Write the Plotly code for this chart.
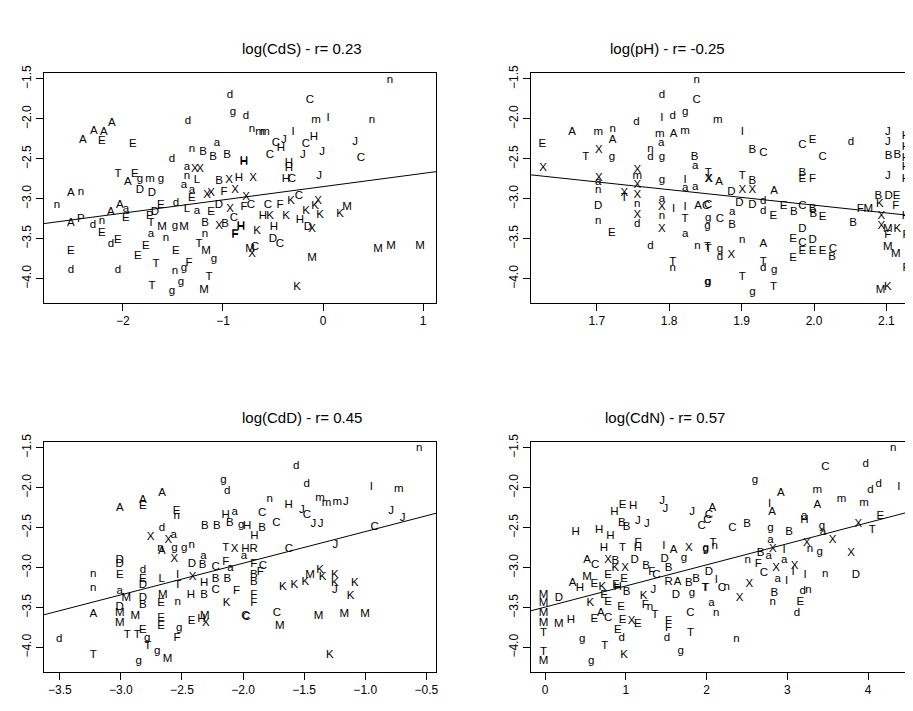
import plotly.graph_objects as go

# ---- panel 1: log(CdS) ----
cds_lab = ("A A A E A E d d g d n B a B B d "
           "H T A E g m g D D a X X n L B X "
           "H a a X X F X A n n A a A E A "
           "P d n E d E D P T L a E D X F "
           "C B X B H E M g M a n n F d E "
           "E E E E T M g F d d T n g T T "
           "g g M "
           "n C m I n n m m I H J C H C C J "
           "J J C H H H X H C J X C C K F C "
           "H K K X K K H K X D K M H F K H "
           "D C M X C M M M M K").split()
cds_x = [-2.40, -2.29, -2.19, -2.21, -2.11, -1.90, -1.35, -0.93, -0.90, -0.77, -1.31, -1.20, -1.06, -1.10, -0.96, -1.51,
         -0.79, -2.05, -1.95, -1.88, -1.83, -1.73, -1.62, -1.83, -1.71, -1.36, -1.28, -1.23, -1.36, -1.26, -1.04, -0.94,
         -0.84, -1.39, -1.31, -1.16, -1.12, -0.99, -0.88, -2.52, -2.42, -2.66, -2.03, -1.97, -2.12, -1.97, -2.52,
         -2.42, -2.30, -2.21, -1.62, -1.47, -1.31, -1.68, -1.73, -1.72, -1.36, -1.26, -1.12, -1.04, -0.93, -0.79,
         -0.89, -1.18, -1.04, -0.98, -0.82, -2.21, -1.61, -1.48, -1.39, -1.72, -1.57, -1.18, -0.88, -2.12, -2.05,
         -1.77, -1.85, -2.52, -1.47, -1.24, -1.17, -1.09, -1.34, -2.52, -2.05, -1.67, -1.48, -1.39, -1.14, -1.71,
         -1.51, -1.42, -1.19,
         0.67, -0.13, -0.07, 0.05, 0.49, -0.71, -0.58, -0.63, -0.30, -0.09, -0.39, -0.47, -0.42, -0.53, -0.17, -0.20,
         -0.01, 0.32, 0.38, -0.34, -0.34, -0.79, -0.70, -0.37, -0.31, -0.04, -0.77, -0.72, -0.24, -0.32, -0.43, -0.55,
         -0.60, -0.53, -0.37, -0.05, -0.08, -0.03, -0.23, -0.17, -0.11, -0.15, 0.17, 0.24, -0.82, -0.88, -0.66, -0.49,
         -0.50, -0.43, -0.73, -0.71, -0.68, 0.55, 0.68, 0.97, -0.11, -0.26]
cds_y = [-2.27, -2.15, -2.17, -2.28, -2.05, -2.31, -2.03, -1.70, -1.91, -1.97, -2.38, -2.41, -2.30, -2.48, -2.45, -2.50,
         -2.53, -2.69, -2.79, -2.69, -2.75, -2.75, -2.75, -2.89, -2.93, -2.60, -2.63, -2.63, -2.72, -2.76, -2.78, -2.76,
         -2.74, -2.83, -2.89, -2.95, -2.93, -2.91, -2.89, -2.93, -2.92, -3.08, -3.08, -3.13, -3.17, -3.24, -3.31,
         -3.26, -3.33, -3.28, -3.08, -3.06, -2.99, -3.17, -3.22, -3.31, -3.13, -3.15, -3.17, -3.08, -3.13, -3.11,
         -3.24, -3.30, -3.34, -3.32, -3.34, -3.43, -3.36, -3.34, -3.36, -3.44, -3.49, -3.44, -3.44, -3.57, -3.52,
         -3.59, -3.72, -3.65, -3.65, -3.57, -3.65, -3.75, -3.80, -3.89, -3.89, -3.82, -3.90, -3.87, -3.98, -4.09,
         -4.16, -4.04, -4.14,
         -1.51, -1.76, -2.02, -1.99, -2.02, -2.13, -2.17, -2.17, -2.17, -2.23, -2.27, -2.30, -2.37, -2.45, -2.32, -2.45,
         -2.41, -2.29, -2.49, -2.55, -2.62, -2.54, -2.74, -2.75, -2.75, -2.72, -2.98, -3.08, -2.97, -3.03, -3.08, -3.08,
         -3.22, -3.22, -3.22, -3.03, -3.09, -3.20, -3.27, -3.15, -3.38, -3.36, -3.19, -3.11, -3.36, -3.45, -3.40, -3.36,
         -3.50, -3.57, -3.63, -3.69, -3.61, -3.63, -3.59, -3.59, -3.74, -4.10]

# ---- panel 2: log(pH) ----
ph_lab = ("n d C I d g d A m n A m a A m E "
          "X T g n d g B a X X a n D n E X "
          "m X X n X d X T g a X n X I I a "
          "a X I T A C a g d n T T n g "
          "m I B C C E C d J J H H B B H H "
          "J H T X A T B D X X A B E F C D "
          "D d d E E B C B E B B F M B D E "
          "K F H X X M K F F M M F M K g C "
          "a B T n g d X A T d g T T g g E "
          "D C D E E E C B E").split()
ph_x = [1.838, 1.790, 1.838, 1.790, 1.805, 1.822, 1.755, 1.666, 1.702, 1.722, 1.722, 1.787, 1.789, 1.806, 1.822, 1.625,
        1.703, 1.685, 1.721, 1.774, 1.774, 1.790, 1.835, 1.836, 1.626, 1.703, 1.702, 1.702, 1.702, 1.702, 1.721, 1.756,
        1.756, 1.756, 1.756, 1.756, 1.756, 1.756, 1.738, 1.738, 1.790, 1.790, 1.790, 1.790, 1.790, 1.806, 1.822, 1.822,
        1.836, 1.855, 1.822, 1.822, 1.840, 1.851, 1.822, 1.853, 1.774, 1.839, 1.853, 1.805, 1.805, 1.853,
        1.867, 1.901, 1.915, 1.930, 1.984, 1.998, 2.012, 2.051, 2.102, 2.102, 2.127, 2.127, 2.103, 2.115, 2.127, 2.127,
        2.102, 2.127, 1.854, 1.854, 1.869, 1.901, 1.915, 1.886, 1.901, 1.915, 1.945, 1.984, 1.984, 1.998, 1.854, 1.897,
        1.915, 1.930, 1.930, 1.944, 1.958, 1.972, 1.984, 1.998, 2.012, 1.999, 2.054, 2.064, 2.075, 2.089, 2.103, 2.114,
        2.091, 2.113, 2.127, 2.093, 2.093, 2.102, 2.115, 2.127, 2.102, 2.102, 2.113, 2.127, 2.092, 2.102, 1.854, 1.870,
        1.887, 1.887, 1.854, 1.901, 1.870, 1.870, 1.886, 1.930, 1.930, 1.930, 1.945, 1.901, 1.944, 1.915, 1.854, 1.971,
        1.984, 1.984, 1.998, 1.984, 1.998, 2.012, 2.026, 2.025, 1.971]
ph_y = [-1.52, -1.70, -1.76, -1.99, -1.96, -1.91, -2.04, -2.17, -2.17, -2.13, -2.27, -2.19, -2.30, -2.19, -2.15, -2.31,
        -2.39, -2.48, -2.48, -2.38, -2.48, -2.48, -2.48, -2.59, -2.62, -2.74, -2.79, -2.89, -3.09, -3.28, -3.43, -2.64,
        -2.72, -2.83, -2.95, -3.07, -3.20, -3.32, -2.93, -2.99, -2.76, -3.01, -3.11, -3.22, -3.38, -3.13, -2.76, -2.86,
        -2.85, -2.75, -3.11, -3.26, -3.09, -3.09, -3.44, -3.34, -3.59, -3.59, -3.61, -3.79, -3.87, -4.04,
        -2.02, -2.17, -2.39, -2.43, -2.33, -2.26, -2.48, -2.29, -2.17, -2.29, -2.21, -2.35, -2.47, -2.45, -2.49, -2.60,
        -2.72, -2.75, -2.68, -2.75, -2.79, -2.72, -2.78, -2.92, -2.89, -2.89, -2.90, -2.68, -2.75, -2.75, -3.08, -3.05,
        -3.08, -3.03, -3.15, -3.22, -3.09, -3.17, -3.09, -3.13, -3.23, -3.19, -3.30, -3.13, -3.13, -2.97, -2.97, -2.97,
        -3.07, -3.09, -3.22, -3.22, -3.34, -3.38, -3.38, -3.45, -3.46, -3.61, -3.69, -3.87, -4.14, -4.10, -3.24, -3.26,
        -3.17, -3.33, -3.63, -3.52, -3.63, -3.73, -3.70, -3.57, -3.79, -3.87, -3.89, -3.98, -4.10, -4.17, -4.04, -3.51,
        -3.38, -3.56, -3.52, -3.65, -3.65, -3.66, -3.63, -3.73, -3.74]

# ---- panel 3: log(CdD) ----
cdd_lab = ("g d A A E A E n d X X a n A "
           "g g n X B B H a B g H T X H "
           "a D D E n n a M d E D D B L "
           "I T M E n D a B C F a X B H "
           "B C H B K F A D M M M E E T "
           "T E g T g g M d T g F E H M "
           "X C "
           "d d n H J C m m m J I m n C "
           "C J J B H J J C J C R F C F "
           "K K K M K K K K J K K C C M "
           "M M M K B B F F").split()
cdd_x = [-2.161, -2.129, -3.009, -2.820, -2.820, -2.663, -2.543, -2.543, -2.663, -2.757, -2.611, -2.568, -2.676, -2.665,
         -2.562, -2.481, -2.421, -2.562, -2.313, -2.215, -2.142, -2.069, -2.107, -2.015, -1.966, -2.142, -2.069, -1.980,
         -1.993, -3.009, -3.009, -3.009, -3.226, -3.226, -3.009, -2.955, -2.820, -2.820, -2.820, -2.820, -2.820, -2.665,
         -2.535, -2.535, -2.657, -2.671, -2.535, -2.419, -2.324, -2.332, -2.224, -2.142, -2.102, -2.413, -2.224, -2.319,
         -2.129, -2.224, -2.427, -2.319, -2.134, -2.053, -3.226, -3.009, -3.009, -3.009, -2.882, -2.671, -2.671, -2.947,
         -2.866, -2.820, -2.785, -2.779, -2.703, -2.855, -2.617, -3.505, -3.226, -2.522, -2.541, -2.421, -2.340, -2.313,
         -2.305, -1.972,
         -1.565, -1.478, -1.782, -1.627, -1.518, -1.478, -1.370, -1.316, -1.229, -1.159, -0.950, -0.725, -0.557, -1.844,
         -1.727, -1.424, -1.364, -1.844, -1.907, -0.787, -0.693, -0.923, -1.245, -1.625, -1.912, -1.912, -1.837, -1.858,
         -1.674, -1.579, -1.490, -1.452, -1.370, -1.348, -1.248, -1.248, -1.248, -1.085, -1.120, -1.980, -1.722, -1.700,
         -1.382, -1.172, -1.001, -1.289, -1.912, -1.912, -1.912, -1.912]
cdd_y = [-1.90, -2.04, -2.25, -2.16, -2.23, -2.07, -2.29, -2.36, -2.50, -2.62, -2.65, -2.59, -2.75, -2.79, -2.75, -2.76,
         -2.72, -2.89, -2.48, -2.48, -2.34, -2.31, -2.44, -2.47, -2.48, -2.76, -2.77, -2.77, -2.85, -2.90, -2.95, -3.10,
         -3.08, -3.26, -3.30, -3.38, -3.03, -3.14, -3.22, -3.38, -3.47, -3.14, -3.10, -3.22, -3.34, -3.45, -3.43, -2.95,
         -2.85, -2.97, -2.99, -2.93, -3.01, -3.12, -3.14, -3.20, -3.14, -3.28, -3.34, -3.34, -3.45, -3.30, -3.58, -3.49,
         -3.57, -3.69, -3.61, -3.63, -3.73, -3.84, -3.84, -3.78, -3.88, -3.98, -4.04, -4.17, -4.15, -3.89, -4.10, -3.76,
         -3.88, -3.67, -3.64, -3.61, -3.69, -3.62,
         -1.73, -1.96, -2.14, -2.22, -2.28, -2.34, -2.13, -2.19, -2.18, -2.18, -1.99, -2.02, -1.50, -2.32, -2.44, -2.46,
         -2.46, -2.51, -2.60, -2.29, -2.38, -2.49, -2.72, -2.77, -2.77, -2.95, -2.98, -3.06, -3.24, -3.22, -3.18, -3.10,
         -3.03, -3.12, -3.10, -3.20, -3.28, -3.19, -3.36, -3.61, -3.57, -3.73, -3.61, -3.58, -3.58, -4.10, -3.10, -3.18,
         -3.34, -3.45]

# ---- panel 4: log(CdN) ----
cdn_lab = ("M M M M T T M D M H g T g K H H H "
           "H E H B B J J J J J C C H T H F I A "
           "g X g A C X B D B F C D B M E K X "
           "E A H E K E H B J K F n T R A B B "
           "D g T K E E E C A E E X E E d F F "
           "d C T g "
           "n C d g d d I A m m m m I A A A C C B "
           "a H g a B g a X X E T X n g X T g n B "
           "X I a n F a C X a I I X I n D D I T C "
           "n X X B n d n E d a n n").split()
cdn_x = [-0.02, -0.02, -0.02, -0.02, -0.02, -0.02, -0.02, 0.17, 0.17, 0.32, 0.46, 0.74, 0.57, 0.98, 0.38, 0.67, 0.81,
         0.86, 0.96, 1.09, 0.95, 1.01, 1.15, 1.26, 1.45, 1.49, 1.82, 1.94, 2.03, 0.73, 0.96, 1.15, 1.15, 1.47, 1.59,
         1.72, 1.78, 1.99, 0.52, 0.62, 0.78, 0.87, 1.11, 1.25, 1.32, 1.38, 1.48, 1.53, 0.52, 0.78, 0.87, 0.99, 0.98,
         0.34, 0.43, 0.61, 0.71, 0.88, 0.90, 1.01, 1.34, 1.22, 1.24, 1.30, 1.36, 1.53, 1.64, 1.78, 1.87, 1.62, 1.82,
         1.98, 0.56, 0.73, 0.78, 0.94, 0.78, 0.69, 0.61, 0.96, 1.07, 1.15, 0.90, 0.95, 1.53, 1.53, 1.51, 1.80, 1.80,
         1.68,
         4.31, 3.47, 3.97, 2.60, 4.13, 4.03, 4.38, 2.92, 3.37, 3.67, 3.95, 4.55, 2.78, 2.81, 3.37, 2.07, 2.01, 2.32, 2.50,
         3.21, 3.21, 2.79, 2.79, 3.02, 3.43, 3.44, 3.56, 3.88, 4.15, 4.05, 3.24, 3.28, 3.40, 3.79, 2.08, 1.99, 2.10, 2.67,
         2.82, 2.96, 2.77, 2.51, 2.64, 2.96, 2.71, 2.86, 2.88, 2.99, 3.07, 3.09, 3.22, 3.47, 3.85, 2.03, 2.12, 1.99, 2.19,
         2.25, 2.53, 2.41, 2.84, 2.82, 3.19, 3.26, 3.16, 3.12, 2.06, 2.12, 2.37]
cdn_y = [-3.34, -3.45, -3.57, -3.69, -3.82, -4.06, -4.17, -3.38, -3.71, -3.66, -3.89, -3.98, -4.17, -4.10, -2.55, -2.53,
         -2.60, -2.31, -2.22, -2.23, -2.44, -2.49, -2.42, -2.45, -2.17, -2.27, -2.31, -2.48, -2.34, -2.76, -2.76, -2.75,
         -2.69, -2.73, -2.78, -2.88, -2.76, -2.76, -2.90, -2.97, -2.90, -2.92, -2.91, -2.98, -3.06, -3.10, -2.89, -3.01,
         -3.12, -3.10, -3.01, -3.01, -3.14, -3.19, -3.26, -3.21, -3.24, -3.22, -3.24, -3.31, -3.28, -3.36, -3.47, -3.49,
         -3.60, -3.18, -3.18, -3.20, -3.14, -3.34, -3.32, -3.26, -3.45, -3.34, -3.43, -3.49, -3.63, -3.57, -3.65, -3.66,
         -3.67, -3.71, -3.78, -3.88, -3.67, -3.76, -3.88, -3.57, -3.82, -4.04,
         -1.50, -1.74, -1.70, -1.90, -1.96, -2.03, -1.99, -2.07, -2.03, -2.14, -2.19, -2.18, -2.20, -2.30, -2.22, -2.25,
         -2.40, -2.51, -2.45, -2.35, -2.41, -2.51, -2.66, -2.55, -2.48, -2.55, -2.65, -2.45, -2.35, -2.53, -2.69, -2.77,
         -2.80, -2.82, -2.69, -2.77, -2.73, -2.82, -2.77, -2.78, -2.85, -2.90, -2.95, -2.90, -3.07, -3.01, -3.14, -3.17,
         -3.06, -2.98, -3.10, -3.08, -3.10, -3.06, -3.16, -3.26, -3.26, -3.25, -3.21, -3.38, -3.32, -3.43, -3.30, -3.28,
         -3.43, -3.57, -3.45, -3.57, -3.89]

titles = ["log(CdS) - r= 0.23", "log(pH) - r= -0.25", "log(CdD) - r= 0.45", "log(CdN) - r= 0.57"]

# fitted line end points
fit_x = [[-2.79, 1.13], [1.609, 2.145], [-3.63, -0.42], [-0.176, 4.63]]
fit_y = [[-3.31, -2.66], [-2.70, -3.22], [-3.59, -2.32], [-3.54, -2.27]]

x_ranges = [[-2.79, 1.13], [1.609, 2.145], [-3.63, -0.42], [-0.176, 4.63]]
x_ticks = [[-2, -1, 0, 1], [1.7, 1.8, 1.9, 2.0, 2.1], [-3.5, -3.0, -2.5, -2.0, -1.5, -1.0, -0.5], [0, 1, 2, 3, 4]]
x_fmt = ["d", ".1f", ".1f", "d"]
y_ticks = [-1.5, -2.0, -2.5, -3.0, -3.5, -4.0]
y_range = [-4.3, -1.43]

W, H = 913, 711
DX, DY = 7, 12  # page offset of the plot inside the browser
x_dom = [[(43 - DX) / W, (436 - DX) / W], [(531 - DX) / W, 1.0]]
y_dom = [[1 - (302 - DY) / H, 1 - (70 - DY) / H], [1 - (675 - DY) / H, 1 - (443 - DY) / H]]

panels = [(cds_lab, cds_x, cds_y), (ph_lab, ph_x, ph_y), (cdd_lab, cdd_x, cdd_y), (cdn_lab, cdn_x, cdn_y)]

fig = go.Figure()
font = "Liberation Sans, Arial, sans-serif"
for i, (lab, xs, ys) in enumerate(panels):
    n = i + 1
    xa = "x" if n == 1 else f"x{n}"
    ya = "y" if n == 1 else f"y{n}"
    fig.add_trace(go.Scatter(x=xs, y=ys, text=lab, mode="text", xaxis=xa, yaxis=ya,
                             textfont=dict(size=11.5, color="black", family=font),
                             hoverinfo="skip", showlegend=False))
    fig.add_trace(go.Scatter(x=fit_x[i], y=fit_y[i], mode="lines", xaxis=xa, yaxis=ya,
                             line=dict(color="black", width=1), showlegend=False))
    col, row = i % 2, i // 2
    right = col == 1
    axis_common = dict(showgrid=False, zeroline=False, showline=True, linecolor="black", linewidth=1.3,
                       ticks="outside", ticklen=7, tickcolor="black",
                       tickfont=dict(size=12, color="black", family=font))
    fig.layout["xaxis" if n == 1 else f"xaxis{n}"] = dict(
        axis_common, domain=x_dom[col], range=x_ranges[i], tickvals=x_ticks[i], tickformat=x_fmt[i],
        mirror=True, anchor=ya)
    fig.layout["yaxis" if n == 1 else f"yaxis{n}"] = dict(
        axis_common, domain=y_dom[row], range=y_range, tickvals=y_ticks, tickformat=".1f",
        tickangle=-90, mirror=not right, anchor=xa)
    cx = (x_dom[col][0] + (x_dom[col][1] if not right else (924 - DX) / W)) / 2
    fig.add_annotation(text=titles[i], x=cx, y=y_dom[row][1] + 25 / H, xref="paper", yref="paper",
                       showarrow=False, yanchor="middle",
                       font=dict(size=15, color="black", family=font))

fig.update_layout(width=W, height=H, margin=dict(l=0, r=0, t=0, b=0),
                  paper_bgcolor="white", plot_bgcolor="white")
fig.write_html("out.html")
